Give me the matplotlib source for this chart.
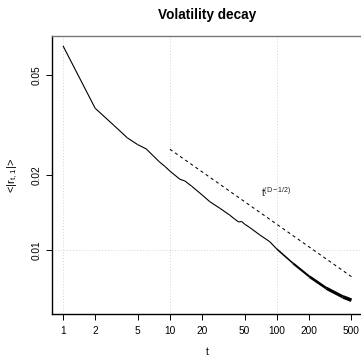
import numpy as np
import matplotlib
matplotlib.use("Agg")
import matplotlib.pyplot as plt
from matplotlib.collections import LineCollection

plt.rcParams['font.family'] = ['Liberation Sans', 'DejaVu Sans']
plt.rcParams['mathtext.fontset'] = 'custom'
plt.rcParams['mathtext.rm'] = 'Liberation Sans'
plt.rcParams['mathtext.it'] = 'Liberation Sans'

# mean absolute return versus lag t
t_vals = [1, 2, 3, 4, 5, 6, 7, 8, 9, 10, 12.4, 13.8, 16, 19.1, 23.7, 29.3,
          36.3, 40.4, 44, 46.8, 50, 56, 69.3, 86, 100, 142, 203, 292, 415, 500]
r_vals = [0.0656, 0.0369, 0.0315, 0.0281, 0.0264, 0.0254, 0.0238, 0.0225,
          0.0216, 0.0207, 0.0192, 0.0189, 0.0180, 0.0169, 0.0156, 0.0147,
          0.0138, 0.0133, 0.01295, 0.01302, 0.0127, 0.0123, 0.0115, 0.0108,
          0.0101, 0.00885, 0.00782, 0.00703, 0.0065, 0.0063]

# power-law reference t^(D-1/2)
D = 0.2
ref_t = [10, 500]
ref_c = 0.0505

x_ticks = [1, 2, 5, 10, 20, 50, 100, 200, 500]
y_ticks = [0.01, 0.02, 0.05]

W, H = 361, 358
fig = plt.figure(figsize=(W / 100, H / 100), dpi=100)
ax = fig.add_axes([52 / W, 1 - 314 / H, (363 - 52) / W, (314 - 36) / H])
ax.set_xscale('log')
ax.set_yscale('log')
ax.set_xlim(0.789, 641)
ax.set_ylim(0.00555, 0.0718)

# dotted grid at decades
for gx in [1, 10, 100]:
    ax.axvline(gx, color='#d3d3d3', lw=0.7, ls=(0, (1, 2)), zorder=0)
ax.axhline(0.01, color='#d3d3d3', lw=0.7, ls=(0, (1, 2)), zorder=0)

# main curve; the noisy tail is rendered as a widening stroke
t = np.array(t_vals, dtype=float)
r = np.array(r_vals)
pts = np.column_stack([t, r]).reshape(-1, 1, 2)
segs = np.concatenate([pts[:-1], pts[1:]], axis=1)
mid = np.sqrt(t[:-1] * t[1:])
frac = np.clip(np.log(mid / 90) / np.log(500 / 90), 0, 1)
widths = 0.8 + 1.9 * frac
lc = LineCollection(segs, colors='black', linewidths=widths, capstyle='butt',
                    joinstyle='round')
ax.add_collection(lc)

rt = np.array(ref_t, dtype=float)
ax.plot(rt, ref_c * rt ** (D - 0.5), color='black', lw=0.75, ls=(0, (3, 3)))
ax.text(100, 0.0171, r'$\mathregular{t^{(D-1/2)}}$', ha='center', va='center',
        fontsize=7.3, color='#222222')

ax.set_xticks(x_ticks)
ax.set_xticklabels([str(v) for v in x_ticks])
ax.set_yticks(y_ticks)
ax.set_yticklabels([str(v) for v in y_ticks], rotation=90, va='center')
ax.minorticks_off()
ax.tick_params(axis='both', length=4.3, width=0.7, labelsize=7.3, pad=4,
               color='black')
ax.tick_params(axis='y', pad=3)

for s in ['left', 'bottom']:
    ax.spines[s].set_color('black')
    ax.spines[s].set_linewidth(1.0)
ax.spines['top'].set_color('#777777')
ax.spines['top'].set_linewidth(1.0)
ax.spines['right'].set_visible(False)

fig.text(207 / W, 1 - 15 / H, 'Volatility decay', ha='center', va='center',
         fontsize=9.8, fontweight='bold')
fig.text(207 / W, 1 - 352 / H, 't', ha='center', va='center', fontsize=7.3)
fig.text(13 / W, 1 - 175 / H, r'<|$\mathregular{r_{t,\,1}}$|>', ha='center',
         va='center', rotation=90, fontsize=8)

fig.savefig('out.png', dpi=100)
